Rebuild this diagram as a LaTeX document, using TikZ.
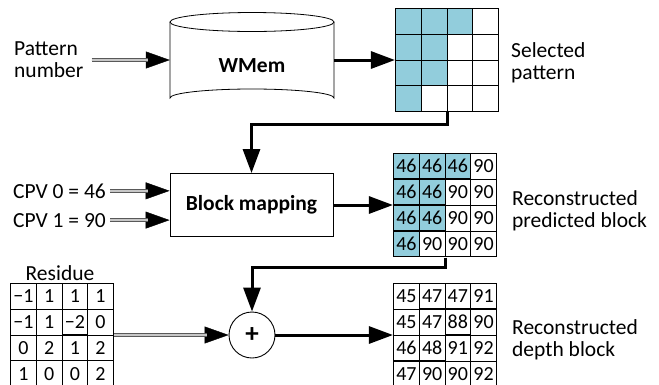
\documentclass[tikz,border=0pt]{standalone}
\usepackage{fontspec}
\setmainfont{Carlito}
\usetikzlibrary{arrows.meta,matrix}
\definecolor{cellblue}{HTML}{92CDDC}
\begin{document}
\begin{tikzpicture}[x=1pt,y=-1pt,
  txt/.style={font=\fontsize{21.5}{22}\selectfont, inner sep=0pt, align=left},
  bigarrow/.style={line width=3pt, -{Triangle[length=24pt,width=17pt]}},
  dblarrow/.style={draw=none,
    postaction={draw, line width=0.4pt, -{Triangle[length=24pt,width=17pt]}},
    postaction={draw=black!65, line width=1.1pt, double=black!22,
                double distance=1.8pt, shorten >=22pt}},
  grid/.style={matrix of nodes, nodes in empty cells, inner sep=0pt,
    column sep=-0.9pt, row sep=-0.9pt,
    nodes={draw, line width=0.9pt, minimum width=25.7pt, minimum height=25.7pt,
           inner sep=0pt, font=\fontsize{20}{20}\selectfont}},
  hl/.style={fill=cellblue}]

\useasboundingbox (0,0) rectangle (659,384);
\fill[white] (0,0) rectangle (659,384);

% weight memory (cylinder outline, then its label node)
\draw[line width=0.8pt, fill=white]
  (170,22) -- (170,98) arc[start angle=180, end angle=360, x radius=82, y radius=9]
  -- (334,22);
\draw[line width=0.8pt] (252,22) ellipse [x radius=82, y radius=9.5];
\node[txt, font=\fontsize{21.5}{22}\selectfont\bfseries,
      minimum width=164pt] (cyl) at (252,66) {WMem};

% selected pattern
\matrix[grid] (sel) at (447,60) {
  |[hl]| & |[hl]| & |[hl]| & \\
  |[hl]| & |[hl]| &        & \\
  |[hl]| & |[hl]| &        & \\
  |[hl]| &        &        & \\
};

% block mapping
\node[draw, line width=0.9pt, minimum width=163pt, minimum height=63pt,
      font=\fontsize{21.5}{22}\selectfont\bfseries] (bm) at (251.5,205) {Block mapping};

% reconstructed predicted block
\matrix[grid] (pred) at (445,205) {
  |[hl]| 46 & |[hl]| 46 & |[hl]| 46 & 90 \\
  |[hl]| 46 & |[hl]| 46 & 90 & 90 \\
  |[hl]| 46 & |[hl]| 46 & 90 & 90 \\
  |[hl]| 46 & 90 & 90 & 90 \\
};

% residue
\matrix[grid] (res) at (62,335) {
  −1 & 1 & 1 & 1 \\
  −1 & 1 & −2 & 0 \\
  0 & 2 & 1 & 2 \\
  1 & 0 & 0 & 2 \\
};

% adder
\node[circle, draw, line width=0.9pt, minimum size=46pt, inner sep=0pt,
      font=\fontsize{27}{27}\selectfont\bfseries] (plus) at (252,335) {+};

% reconstructed depth block
\matrix[grid] (depth) at (445,335) {
  45 & 47 & 47 & 91 \\
  45 & 47 & 88 & 90 \\
  46 & 48 & 91 & 92 \\
  47 & 90 & 90 & 92 \\
};

% labels (two-line labels are placed by the baseline of their last line)
\node[txt, anchor=base west] (pn) at (14,77) {Pattern\\number};
\node[txt, anchor=base west] (sellab) at (511,79) {Selected\\pattern};
\node[txt, anchor=base west] (cpv0) at (13,198) {CPV 0 = 46};
\node[txt, anchor=base west] (cpv1) at (13,227) {CPV 1 = 90};
\node[txt, anchor=base west] (predlab) at (512,227) {Reconstructed\\predicted block};
\node[txt, anchor=base] (reslab) at (60,280) {Residue};
\node[txt, anchor=base west] (depthlab) at (512,356) {Reconstructed\\depth block};

% connectors
\path[dblarrow] ([xshift=8pt]pn.east |- 0,60) -- (cyl.west |- 0,60);
\draw[bigarrow] (cyl.east |- sel.west) -- (sel.west);
\draw[bigarrow] (sel.south) -- ++(0,12) -| (bm.north);
\path[dblarrow] ([xshift=4pt]cpv0.east) -- (cpv0.east -| bm.west);
\path[dblarrow] ([xshift=4pt]cpv1.east) -- (cpv1.east -| bm.west);
\draw[bigarrow] (bm.east) -- (bm.east -| pred.west);
\draw[bigarrow] (pred.south) -- ++(0,10) -| (plus.north);
\path[dblarrow] (res.east) -- (plus.west);
\draw[bigarrow] (plus.east) -- (depth.west);
\end{tikzpicture}
\end{document}
